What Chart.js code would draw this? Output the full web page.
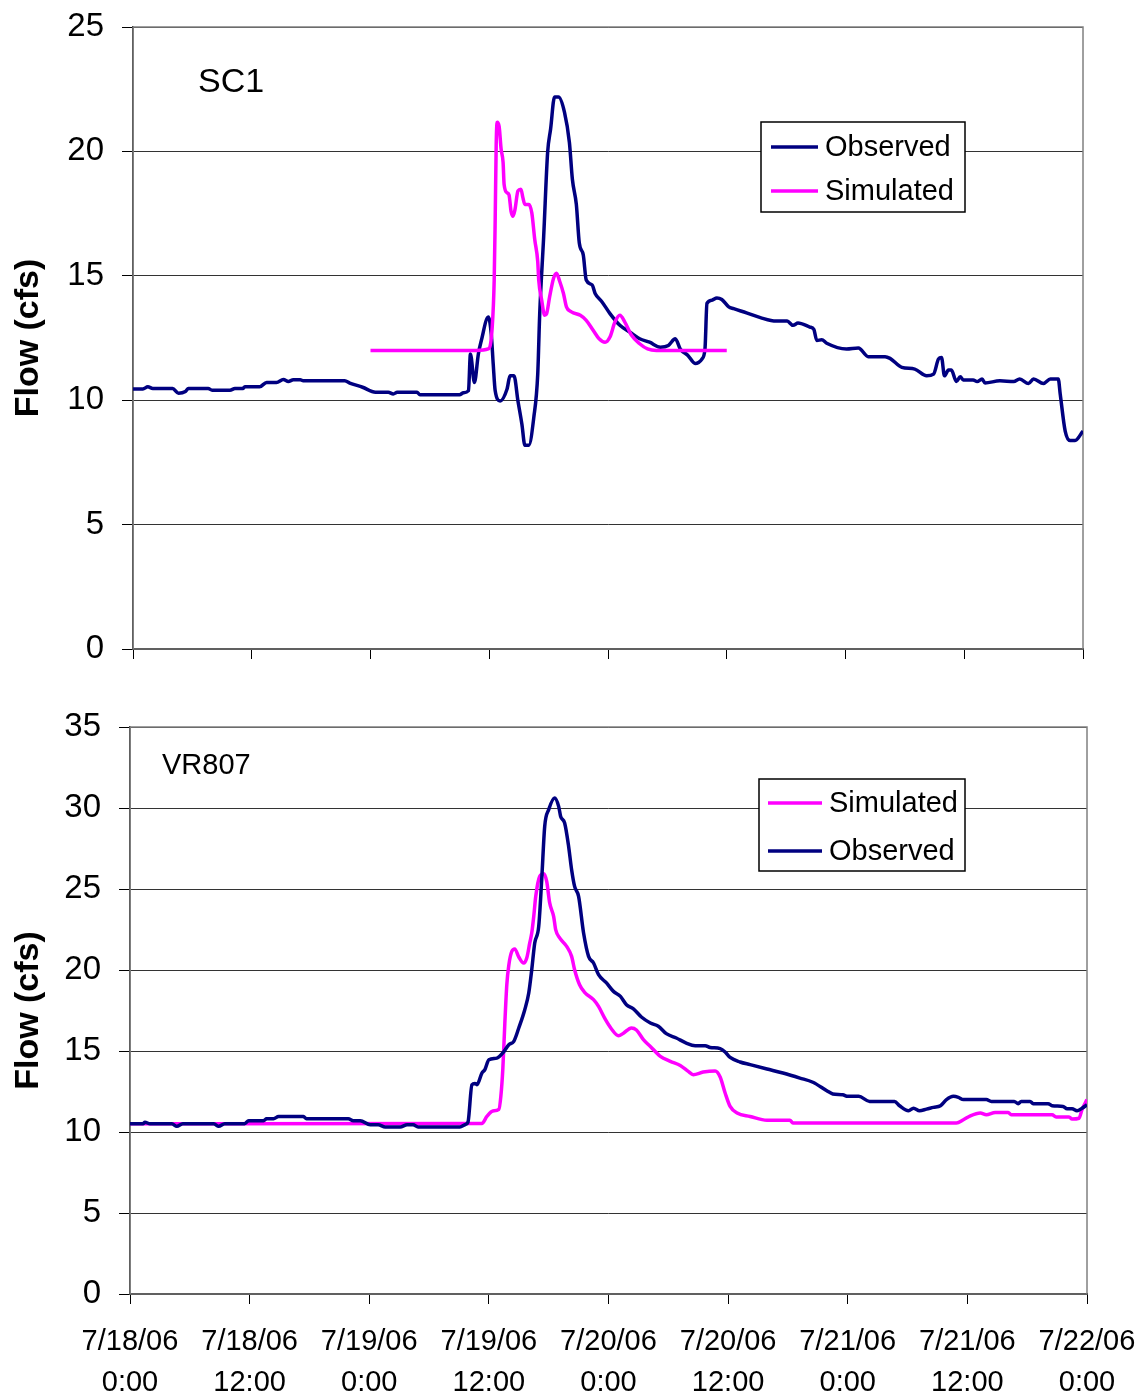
<!DOCTYPE html>
<html>
<head>
<meta charset="utf-8">
<title>Flow (cfs) - SC1 / VR807</title>
<script src="https://cdn.jsdelivr.net/npm/chart.js@4.4.0/dist/chart.umd.min.js"></script>
<style>
  body { margin: 0; background: #fff; }
  #wrap { position: relative; width: 1144px; height: 1399px; }
  canvas { position: absolute; left: 0; }
</style>
</head>
<body>
<div id="wrap">
  <canvas id="sc1Chart" width="1144" height="700" style="top:0"></canvas>
  <canvas id="vr807Chart" width="1144" height="699" style="top:700px"></canvas>
</div>
<script>
// hours since 7/18/06 0:00 and flow in cfs

// x axis tick labels, one per 12 hours
const tickDates = ['7/18/06', '7/18/06', '7/19/06', '7/19/06', '7/20/06', '7/20/06', '7/21/06', '7/21/06', '7/22/06'];
const tickTimes = ['0:00', '12:00', '0:00', '12:00', '0:00', '12:00', '0:00', '12:00', '0:00'];

// SC1 observed
const sc1ObsHours = [0, 1.0, 1.5, 2.0, 4.0, 4.6, 5.3, 5.6, 7.6, 8.0, 9.8, 10.3, 11.1, 11.3, 12.8, 13.5, 14.5, 15.2, 15.7, 16.2,
  16.9, 17.2, 21.4, 21.9, 23.2, 24.5, 25.8, 26.3, 26.7, 28.7, 29.0, 33.0, 33.4, 33.9, 34.1, 34.5, 34.9, 35.2, 35.9, 36.2,
  36.4, 36.6, 37.1, 37.8, 38.1, 38.5, 38.9, 39.3, 39.6, 40.0, 40.5, 40.9, 41.1, 41.5, 41.9, 42.2, 42.6, 43.0, 43.6, 44.1,
  44.4, 44.8, 45.1, 45.5, 45.8, 46.4, 46.7, 47.4, 48.2, 49.2, 50.2, 51.2, 52.2, 53.3, 54.1, 54.8, 55.3, 56.1, 56.8, 57.5,
  57.8, 58.0, 58.5, 59.0, 59.5, 60.2, 60.7, 62.0, 63.4, 65.0, 66.1, 66.7, 67.2, 68.4, 68.8, 69.1, 69.6, 70.1, 72.1, 73.3,
  74.3, 76.0, 76.5, 77.7, 79.0, 80.2, 80.9, 81.4, 81.7, 82.0, 82.4, 82.7, 83.2, 83.6, 83.9, 84.9, 85.3, 85.8, 86.1, 87.6,
  89.0, 89.6, 90.5, 91.0, 92.0, 92.7, 93.5, 93.7, 94.2, 94.7, 95.2, 96.0];
const sc1ObsFlow = [10.45, 10.45, 10.54, 10.47, 10.47, 10.28, 10.35, 10.47, 10.47, 10.4, 10.4, 10.47, 10.47, 10.54, 10.54, 10.71, 10.71, 10.83, 10.75, 10.82,
  10.82, 10.78, 10.78, 10.69, 10.52, 10.32, 10.32, 10.25, 10.32, 10.32, 10.22, 10.22, 10.3, 10.38, 11.86, 10.71, 11.86, 12.4, 13.34, 12.67,
  11.46, 10.38, 9.97, 10.45, 10.98, 10.98, 9.97, 9.03, 8.19, 8.19, 9.3, 11.05, 13.48, 16.58, 19.96, 20.9, 22.19, 22.19, 21.58, 20.36,
  18.88, 17.87, 16.32, 15.84, 14.83, 14.63, 14.29, 13.95, 13.48, 13.01, 12.74, 12.47, 12.33, 12.13, 12.2, 12.47, 12.06, 11.79, 11.48, 11.66,
  12.06, 13.89, 14.02, 14.11, 14.05, 13.75, 13.68, 13.51, 13.32, 13.18, 13.18, 13.01, 13.1, 12.94, 12.85, 12.4, 12.43, 12.29, 12.06, 12.1,
  11.75, 11.75, 11.68, 11.32, 11.25, 10.98, 11.05, 11.66, 11.72, 10.98, 11.21, 11.21, 10.75, 10.94, 10.81, 10.81, 10.75, 10.85, 10.69, 10.78,
  10.75, 10.85, 10.67, 10.85, 10.67, 10.85, 10.85, 10.24, 8.76, 8.38, 8.38, 8.76];

// SC1 simulated
const sc1SimHours = [24.0, 34.7, 35.9, 36.3, 36.5, 36.6, 36.7, 36.8, 37.0, 37.2, 37.4, 37.5, 37.8, 38.0, 38.2, 38.4, 38.6, 38.9, 39.2, 39.4,
  39.6, 40.0, 40.3, 40.6, 40.9, 41.0, 41.3, 41.6, 41.8, 42.1, 42.5, 42.8, 43.1, 43.5, 43.8, 44.3, 45.2, 45.8, 46.5, 47.1,
  47.7, 48.2, 48.7, 49.2, 49.7, 50.4, 51.2, 52.0, 52.9, 60.0];
const sc1SimFlow = [12.0, 12.0, 12.06, 12.94, 14.83, 17.26, 20.23, 21.17, 21.0, 20.09, 19.55, 18.68, 18.34, 18.25, 17.6, 17.39, 17.66, 18.41, 18.48, 18.14,
  17.87, 17.87, 17.53, 16.45, 15.57, 14.83, 14.02, 13.41, 13.48, 14.15, 14.9, 15.1, 14.8, 14.29, 13.75, 13.55, 13.41, 13.21, 12.81, 12.47,
  12.33, 12.54, 13.14, 13.41, 13.14, 12.6, 12.27, 12.06, 12.0, 12.0];

// VR807 observed
const vrObsHours = [0, 1.3, 1.5, 2.0, 4.2, 4.7, 5.3, 8.4, 8.9, 9.5, 11.5, 11.9, 13.4, 13.7, 14.4, 14.9, 17.4, 17.7, 21.9, 22.4,
  23.1, 24.1, 24.9, 25.6, 27.1, 27.8, 28.4, 28.9, 33.1, 33.6, 33.9, 34.3, 34.6, 34.8, 35.3, 35.6, 36.0, 36.8, 37.4, 38.0,
  38.5, 39.0, 39.6, 40.0, 40.3, 40.6, 41.0, 41.3, 41.6, 42.0, 42.6, 43.0, 43.2, 43.6, 44.0, 44.3, 44.6, 45.0, 45.5, 46.0,
  46.5, 47.0, 47.8, 48.5, 49.2, 49.8, 50.5, 51.3, 52.2, 53.0, 53.8, 54.8, 55.8, 56.7, 57.7, 58.2, 59.2, 59.7, 60.2, 61.2,
  62.2, 63.9, 65.5, 67.2, 68.5, 69.9, 70.5, 71.5, 72.0, 73.1, 74.2, 76.7, 77.2, 78.1, 78.6, 79.2, 79.9, 80.6, 81.3, 81.9,
  82.6, 83.1, 83.6, 85.9, 86.4, 88.7, 89.1, 89.4, 90.3, 90.6, 92.1, 92.5, 93.6, 94.0, 94.5, 95.0, 95.5, 96.0];
const vrObsFlow = [10.51, 10.51, 10.6, 10.51, 10.51, 10.35, 10.51, 10.51, 10.35, 10.51, 10.51, 10.7, 10.7, 10.82, 10.82, 10.96, 10.96, 10.82, 10.82, 10.7,
  10.7, 10.45, 10.45, 10.31, 10.31, 10.45, 10.45, 10.31, 10.31, 10.45, 10.6, 12.92, 13.0, 12.92, 13.64, 13.85, 14.46, 14.56, 14.88, 15.39,
  15.6, 16.42, 17.55, 18.58, 20.02, 21.67, 22.69, 25.58, 28.86, 29.9, 30.62, 30.1, 29.48, 29.07, 27.63, 26.19, 25.16, 24.54, 22.28, 20.84,
  20.43, 19.71, 19.2, 18.68, 18.37, 17.86, 17.6, 17.1, 16.73, 16.53, 16.07, 15.8, 15.49, 15.33, 15.33, 15.22, 15.15, 14.94, 14.6, 14.32,
  14.16, 13.89, 13.64, 13.33, 13.07, 12.55, 12.35, 12.3, 12.2, 12.2, 11.89, 11.89, 11.62, 11.31, 11.47, 11.31, 11.41, 11.52, 11.62, 12.0,
  12.2, 12.14, 12.0, 12.0, 11.89, 11.89, 11.75, 11.89, 11.89, 11.75, 11.75, 11.62, 11.58, 11.44, 11.44, 11.31, 11.47, 11.68];

// VR807 simulated
const vrSimHours = [0, 35.3, 35.8, 36.4, 37.0, 37.2, 37.4, 37.6, 37.8, 38.0, 38.3, 38.6, 39.0, 39.5, 39.8, 40.1, 40.3, 40.5, 40.7, 41.1,
  41.5, 41.8, 42.1, 42.5, 42.7, 43.1, 43.8, 44.3, 44.6, 45.1, 45.6, 46.5, 47.0, 47.7, 48.3, 49.0, 49.5, 50.3, 50.8, 51.5,
  52.2, 53.2, 54.2, 55.2, 56.0, 56.5, 57.5, 58.7, 59.2, 59.7, 60.2, 60.9, 62.2, 63.9, 66.2, 66.5, 82.9, 83.6, 84.3, 85.3,
  85.9, 86.8, 88.1, 88.4, 92.5, 92.9, 94.2, 94.5, 95.2, 95.5, 96.0];
const vrSimFlow = [10.51, 10.53, 10.96, 11.3, 11.4, 12.2, 13.9, 16.7, 19.1, 20.3, 21.15, 21.3, 20.8, 20.43, 20.74, 21.67, 22.28, 23.3, 24.54, 25.78,
  25.94, 25.47, 24.14, 23.3, 22.49, 21.98, 21.46, 20.84, 20.02, 19.09, 18.62, 18.17, 17.75, 16.93, 16.36, 15.94, 16.1, 16.42, 16.3, 15.7,
  15.28, 14.67, 14.36, 14.1, 13.74, 13.54, 13.7, 13.77, 13.4, 12.41, 11.58, 11.17, 10.96, 10.72, 10.72, 10.56, 10.56, 10.76, 11.0, 11.17,
  11.06, 11.2, 11.2, 11.06, 11.06, 10.93, 10.93, 10.8, 10.85, 11.38, 12.0];

const NAVY = '#000080';
const MAGENTA = '#FF00FF';
const FONT = "'Liberation Sans', Arial, sans-serif";

function series(hours, flows) {
  return hours.map((h, i) => ({ x: h, y: flows[i] }));
}

// thin grey frame around the plot area
const plotFrame = {
  id: 'plotFrame',
  beforeDatasetsDraw(chart) {
    const a = chart.chartArea;
    const ctx = chart.ctx;
    ctx.save();
    ctx.strokeStyle = '#808080';
    ctx.lineWidth = 1.5;
    ctx.strokeRect(a.left, a.top, a.right - a.left, a.bottom - a.top);
    ctx.restore();
  }
};

// station name written inside the plot
const panelLabel = {
  id: 'panelLabel',
  afterDraw(chart, args, opts) {
    const ctx = chart.ctx;
    ctx.save();
    ctx.fillStyle = '#000';
    ctx.font = opts.size + 'px ' + FONT;
    ctx.textBaseline = 'middle';
    ctx.textAlign = 'left';
    ctx.fillText(opts.text, opts.x, opts.y);
    ctx.restore();
  }
};

// boxed legend, rows follow the dataset order
const boxLegend = {
  id: 'boxLegend',
  afterDraw(chart, args, opts) {
    const ctx = chart.ctx;
    ctx.save();
    ctx.fillStyle = '#fff';
    ctx.fillRect(opts.left, opts.top, opts.width, opts.height);
    ctx.strokeStyle = '#000';
    ctx.lineWidth = 1.5;
    ctx.strokeRect(opts.left, opts.top, opts.width, opts.height);
    ctx.font = '29px ' + FONT;
    ctx.textBaseline = 'middle';
    ctx.textAlign = 'left';
    chart.data.datasets.forEach((ds, i) => {
      const y = opts.rows[i];
      ctx.strokeStyle = ds.borderColor;
      ctx.lineWidth = 3.5;
      ctx.beginPath();
      ctx.moveTo(opts.lineX0, y);
      ctx.lineTo(opts.lineX1, y);
      ctx.stroke();
      ctx.fillStyle = '#000';
      ctx.fillText(ds.label, opts.textX, y + 1);
    });
    ctx.restore();
  }
};

function makeChart(canvasId, cfg) {
  const datasets = cfg.datasets.map(d => ({
    label: d.label,
    data: d.data,
    borderColor: d.color,
    backgroundColor: d.color,
    borderWidth: 3.5,
    pointRadius: 0,
    cubicInterpolationMode: 'monotone',
    order: d.order,
    fill: false
  }));

  return new Chart(document.getElementById(canvasId), {
    type: 'line',
    data: { datasets: datasets },
    plugins: [plotFrame, panelLabel, boxLegend],
    options: {
      responsive: false,
      animation: false,
      devicePixelRatio: 1,
      layout: { padding: { left: 0, top: cfg.padTop, right: cfg.padRight, bottom: 0 } },
      scales: {
        x: {
          type: 'linear',
          min: 0,
          max: 96,
          afterFit: s => { s.height = cfg.xHeight; s.paddingLeft = 0; s.paddingRight = 0; },
          afterBuildTicks: s => { s.ticks = tickDates.map((t, i) => ({ value: i * 12 })); },
          border: { display: true, color: '#000', width: 2 },
          grid: { drawOnChartArea: false, drawTicks: true, tickLength: 10, tickColor: '#000', lineWidth: 1 },
          ticks: {
            maxRotation: 0,
            autoSkip: false,
            padding: 18,
            color: '#000',
            font: { family: FONT, size: 29, lineHeight: 1.41 },
            callback: v => cfg.showDates ? [tickDates[v / 12], tickTimes[v / 12]] : ''
          }
        },
        y: {
          min: 0,
          max: cfg.yMax,
          afterFit: s => { s.width = cfg.yWidth; s.paddingTop = 0; s.paddingBottom = 0; },
          border: { display: true, color: '#000', width: 1.5 },
          grid: { color: '#333', lineWidth: 1, drawTicks: true, tickLength: 11, tickColor: '#000' },
          ticks: {
            stepSize: 5,
            padding: 18,
            color: '#000',
            font: { family: FONT, size: 33 }
          },
          title: {
            display: true,
            text: 'Flow (cfs)',
            color: '#000',
            padding: { top: 8, bottom: 0 },
            font: { family: FONT, size: 34, weight: 'bold' }
          }
        }
      },
      plugins: {
        legend: { display: false },
        tooltip: { enabled: false },
        panelLabel: cfg.label,
        boxLegend: cfg.legend
      }
    }
  });
}

// SC1: observed drawn first, simulated on top
makeChart('sc1Chart', {
  padTop: 27, padRight: 61, xHeight: 51, yWidth: 133, yMax: 25, showDates: false,
  datasets: [
    { label: 'Observed', data: series(sc1ObsHours, sc1ObsFlow), color: NAVY, order: 2 },
    { label: 'Simulated', data: series(sc1SimHours, sc1SimFlow), color: MAGENTA, order: 1 }
  ],
  label: { text: 'SC1', x: 198, y: 83, size: 34 },
  legend: { left: 761, top: 122, width: 204, height: 90, rows: [147, 191], lineX0: 771, lineX1: 818, textX: 825 }
});

// VR807: simulated drawn first, observed on top
makeChart('vr807Chart', {
  padTop: 27, padRight: 57, xHeight: 105, yWidth: 130, yMax: 35, showDates: true,
  datasets: [
    { label: 'Simulated', data: series(vrSimHours, vrSimFlow), color: MAGENTA, order: 2 },
    { label: 'Observed', data: series(vrObsHours, vrObsFlow), color: NAVY, order: 1 }
  ],
  label: { text: 'VR807', x: 162, y: 66, size: 29 },
  legend: { left: 759, top: 79, width: 206, height: 92, rows: [103, 151], lineX0: 768, lineX1: 822, textX: 829 }
});
</script>
</body>
</html>
